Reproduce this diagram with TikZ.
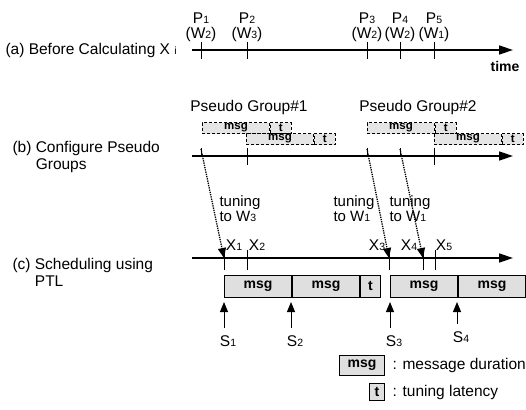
\documentclass[tikz,border=0pt]{standalone}
\usepackage{fontspec}
\setmainfont{Liberation Sans}
\usetikzlibrary{arrows.meta, positioning}
\newcommand{\ix}[1]{{\fontsize{10.5}{10.5}\selectfont #1}}
\tikzset{
  timeline/.style={line width=1.5pt, -{Triangle[length=14pt,width=9pt]}},
  tickmark/.style={line width=1pt},
  msgbox/.style={draw, line width=1pt, fill=gray!25, inner sep=0pt,
                 minimum height=22pt, font=\fontsize{14}{16}\selectfont\bfseries},
  pgbox/.style={draw, densely dashed, line width=0.9pt, fill=gray!20, inner sep=0pt,
                minimum height=11pt, font=\fontsize{11.5}{11.5}\selectfont\bfseries},
  tuning/.style={densely dotted, line width=1.3pt, -{Triangle[length=10pt,width=8pt]}},
  slot/.style={line width=1pt, -{Triangle[length=10pt,width=8pt]}},
}
\begin{document}
\begin{tikzpicture}[x=1pt, y=-1pt, font=\fontsize{15.5}{17}\selectfont]
  \useasboundingbox (0,0) rectangle (526,409);

  % (a) before calculating
  \node[anchor=west] (la) at (2,50) {(a) Before Calculating X \ix{i}};
  \coordinate (a0) at (192,50);
  \coordinate (a1) at (513,50);
  \draw[timeline] (a0) -- (a1);
  \node[font=\fontsize{14}{16}\selectfont\bfseries] (time) at (505,66) {time};
  \foreach \n/\xp/\w in {1/201/2, 2/247/3, 3/367/2, 4/400/2, 5/434/1} {
    \draw[tickmark] (\xp,42) -- (\xp,59);
    \node (p\n) at (\xp,18) {P\ix{\n}};
    \node (w\n) at (\xp,34) {(W\ix{\w})};
  }

  % (b) pseudo groups
  \node[anchor=west, align=left] (lb) at (9,157) {(b) Configure Pseudo\\\phantom{(b) }Groups};
  \node (pg1) at (249,107) {Pseudo Group\#1};
  \node (pg2) at (418,107) {Pseudo Group\#2};
  \foreach \i/\xp/\yp in {1/202/128, 2/246/139, 3/367/128, 4/434/139} {
    \node[pgbox, minimum width=67pt, anchor=west] (gm\i) at (\xp,\yp) {msg};
    \node[pgbox, minimum width=21pt, right=0pt of gm\i] (gt\i) {t};
  }
  \coordinate (b0) at (192,156);
  \coordinate (b1) at (513,156);
  \draw[timeline] (b0) -- (b1);
  \foreach \n/\xp in {1/201, 3/367, 4/400}
    \coordinate (tb\n) at (\xp,149);
  \foreach \xp in {201, 367, 400}
    \draw[tickmark] (\xp,148) -- (\xp,156);
  \foreach \xp in {247, 434}
    \draw[tickmark] (\xp,148) -- (\xp,165);

  % (c) scheduling
  \node[anchor=west, align=left] (lc) at (9,274) {(c) Scheduling using\\\phantom{(c) }PTL};
  \coordinate (c0) at (192,258);
  \coordinate (c1) at (513,258);
  \draw[timeline] (c0) -- (c1);
  \foreach \n/\xp/\lx in {1/224/234, 2/247/257, 3/389/377, 4/423/409, 5/435/444} {
    \coordinate (x\n) at (\xp,258);
    \draw[tickmark] (\xp,250) -- (\xp,270);
    \node (xl\n) at (\lx,245) {X\ix{\n}};
  }
  \draw[tuning] (tb1) -- (x1);
  \draw[tuning] (tb3) -- (x3);
  \draw[tuning] (tb4) -- (x4);
  \node[anchor=west, align=left, font=\fontsize{15}{15}\selectfont] (tn1) at (216,209) {tuning\\to W\ix{3}};
  \node[anchor=west, align=left, font=\fontsize{15}{15}\selectfont] (tn2) at (330,209) {tuning\\to W\ix{1}};
  \node[anchor=west, align=left, font=\fontsize{15}{15}\selectfont] (tn3) at (386,209) {tuning\\to W\ix{1}};

  \node[msgbox, minimum width=67pt, anchor=west] (m1) at (224,286) {msg};
  \node[msgbox, minimum width=67pt, right=0pt of m1] (m2) {msg};
  \node[msgbox, minimum width=20pt, right=0pt of m2] (t1) {t};
  \node[msgbox, minimum width=67pt, anchor=west] (m3) at (390,286) {msg};
  \node[msgbox, minimum width=67pt, right=0pt of m3] (m4) {msg};

  \foreach \n/\xp/\yp in {1/224/341, 2/291/341, 3/390/341, 4/457/337} {
    \node (sl\n) at (\xp+4,\yp) {S\ix{\n}};
    \coordinate (sa\n) at (\xp,302);
    \draw[slot] (\xp,\yp-13) -- (sa\n);
  }

  % legend
  \node[msgbox, minimum width=45pt, minimum height=20pt] (lm) at (362,365) {msg};
  \node[anchor=west] (lmt) at (389,365) {: message duration};
  \node[msgbox, minimum width=15pt, minimum height=17pt] (lt) at (377,392) {t};
  \node[anchor=west] (ltt) at (389,392) {: tuning latency};
\end{tikzpicture}
\end{document}
